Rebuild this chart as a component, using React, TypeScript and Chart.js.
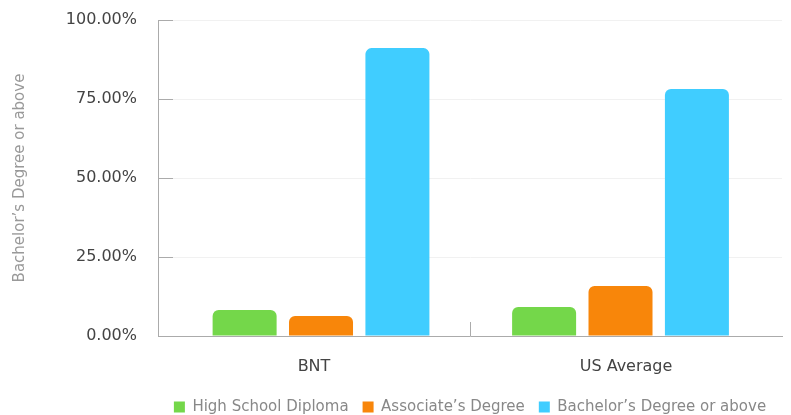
import React, { useEffect, useRef } from "react";
import { Chart, registerables } from "chart.js";

Chart.register(...registerables);

const categories = ["BNT", "US Average"];
const seriesNames = ["High School Diploma", "Associate\u2019s Degree", "Bachelor\u2019s Degree or above"];
const highSchool = [8.2, 9.2];
const associate = [6.3, 15.8];
const bachelor = [91.1, 78.2];
const seriesColors = ["#74D74A", "#F8860A", "#40CDFF"];
const yTicks = [0, 25, 50, 75, 100];
const yTitle = "Bachelor\u2019s Degree or above";

const FONT = "'DejaVu Sans', sans-serif";

const innerTicks = {
  id: "innerTicks",
  afterDatasetsDraw(chart: any) {
    const { ctx, chartArea } = chart;
    const y = chart.scales.y;
    const x = chart.scales.x;
    ctx.save();
    ctx.strokeStyle = "#ababab";
    ctx.lineWidth = 1;
    y.ticks.forEach((t: any) => {
      const py = Math.round(y.getPixelForValue(t.value)) + 0.5;
      ctx.beginPath();
      ctx.moveTo(chartArea.left, py);
      ctx.lineTo(chartArea.left + 15, py);
      ctx.stroke();
    });
    for (let i = 1; i < categories.length; i++) {
      const px = Math.round((x.getPixelForValue(i - 1) + x.getPixelForValue(i)) / 2) + 0.5;
      ctx.beginPath();
      ctx.moveTo(px, chartArea.bottom);
      ctx.lineTo(px, chartArea.bottom - 14);
      ctx.stroke();
    }
    ctx.restore();
  },
};

export default function App() {
  const ref = useRef<HTMLCanvasElement>(null);
  useEffect(() => {
    if (!ref.current) return;
    const lists = [highSchool, associate, bachelor];
    const chart = new Chart(ref.current, {
      type: "bar",
      data: {
        labels: categories,
        datasets: seriesNames.map((name, s) => ({
          label: name,
          data: lists[s].map((v, i) => ({ x: i, y: v })),
          backgroundColor: seriesColors[s],
          borderWidth: 0,
          borderRadius: 6,
          borderSkipped: "start",
          xAxisID: "xb",
          categoryPercentage: 0.7653,
          barPercentage: 0.8377,
        })),
      },
      options: {
        animation: false,
        responsive: false,
        layout: { padding: { top: 20, right: 9, left: 0, bottom: -9.5 } },
        plugins: {
          tooltip: { enabled: false },
          legend: {
            position: "bottom",
            fullSize: false,
            labels: {
              boxWidth: 11,
              boxHeight: 11,
              padding: 14,
              color: "#888888",
              font: { family: FONT, size: 15 },
            },
          },
        },
        scales: {
          x: {
            type: "category",
            labels: categories,
            offset: true,
            grid: { display: false, drawTicks: false },
            border: { display: true, color: "#ababab" },
            ticks: { padding: 21, color: "#444444", font: { family: FONT, size: 16 } },
            afterFit: (s: any) => {
              s.height = 49.5;
            },
          },
          xb: {
            type: "linear",
            display: false,
            offset: false,
            min: -0.5443,
            max: 1.5392,
            afterBuildTicks: (s: any) => {
              s.ticks = categories.map((_, i) => ({ value: i }));
            },
          },
          y: {
            min: 0,
            max: 100,
            afterBuildTicks: (s: any) => {
              s.ticks = yTicks.map((v) => ({ value: v }));
            },
            grid: { color: "#f1f1f1", drawTicks: false },
            border: { display: true, color: "#ababab" },
            ticks: {
              padding: 21,
              color: "#444444",
              font: { family: FONT, size: 16 },
              callback: (v: any) => Number(v).toFixed(2) + "%",
            },
            title: {
              display: true,
              text: yTitle,
              color: "#999999",
              font: { family: FONT, size: 15 },
              padding: { top: 11, bottom: 4 },
            },
            afterFit: (s: any) => {
              s.width = 158;
              s.paddingTop = 10;
              s.paddingBottom = 10;
            },
          },
        },
      } as any,
      plugins: [innerTicks],
    });
    return () => chart.destroy();
  }, []);
  return (
    <div style={{ position: "absolute", left: 0, top: 0, width: 791, height: 415 }}>
      <canvas ref={ref} width={791} height={415} />
    </div>
  );
}
